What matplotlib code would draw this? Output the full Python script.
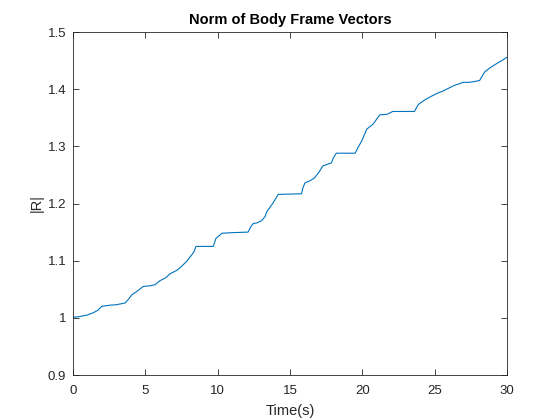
import matplotlib
matplotlib.use('Agg')
import matplotlib.pyplot as plt

# values
time_s = [0.0, 0.4, 1.0, 1.4, 1.7, 1.98, 2.5, 3.0, 3.6, 3.85, 4.05, 4.4, 4.86, 5.3, 5.67,
          6.01, 6.4, 6.7, 7.17, 7.5, 7.86, 8.2, 8.35, 8.5, 9.7, 9.8, 9.88, 10.3, 11.0,
          12.1, 12.3, 12.46, 12.7, 13.04, 13.27, 13.4, 13.8, 14.19, 15.8, 15.9, 16.03,
          16.4, 16.7, 17.0, 17.28, 17.86, 18.0, 18.2, 19.5, 19.7, 19.95, 20.3, 20.75,
          21.0, 21.2, 21.7, 22.1, 23.6, 23.86, 24.3, 24.8, 25.2, 25.6, 26.3, 26.97,
          27.4, 28.1, 28.45, 28.8, 29.3, 29.7, 30.0]
norm_r = [1.001, 1.002, 1.005, 1.009, 1.013, 1.020, 1.022, 1.023, 1.026, 1.033, 1.040,
          1.046, 1.055, 1.056, 1.058, 1.065, 1.070, 1.077, 1.083, 1.090, 1.099, 1.110,
          1.115, 1.125, 1.125, 1.133, 1.139, 1.148, 1.149, 1.150, 1.160, 1.165, 1.166,
          1.170, 1.177, 1.186, 1.200, 1.216, 1.217, 1.228, 1.236, 1.240, 1.245, 1.255,
          1.266, 1.271, 1.280, 1.288, 1.288, 1.298, 1.309, 1.330, 1.339, 1.348, 1.355,
          1.356, 1.361, 1.361, 1.373, 1.381, 1.388, 1.393, 1.397, 1.406, 1.412, 1.412,
          1.415, 1.430, 1.437, 1.445, 1.451, 1.456]

plt.rcParams['font.family'] = ['Liberation Sans', 'DejaVu Sans']

fig = plt.figure(figsize=(5.6, 4.2), dpi=100)
ax = fig.add_axes([0.1304, 0.1071, 0.775, 0.8167])

ax.plot(time_s, norm_r, color='#0072BD', linewidth=0.8)

ax.set_xlim(0, 30)
ax.set_ylim(0.9, 1.5)
ax.set_xticks([0, 5, 10, 15, 20, 25, 30])
ax.set_yticks([0.9, 1.0, 1.1, 1.2, 1.3, 1.4, 1.5])
ax.set_yticklabels(['0.9', '1', '1.1', '1.2', '1.3', '1.4', '1.5'])

axis_col = '#262626'
for spine in ax.spines.values():
    spine.set_color(axis_col)
    spine.set_linewidth(0.6)
ax.tick_params(direction='in', length=4, width=0.6, colors=axis_col, labelsize=9.5,
               top=True, right=True)
ax.tick_params(axis='x', pad=7)
ax.tick_params(axis='y', pad=5)

ax.set_xlabel('Time(s)', fontsize=10.5, color=axis_col, labelpad=5)
ax.set_ylabel('|R|', fontsize=10.5, color=axis_col, labelpad=3)
ax.set_title('Norm of Body Frame Vectors', fontsize=10.5, fontweight='bold', color='black', pad=6)

fig.savefig('out.png', dpi=100)
